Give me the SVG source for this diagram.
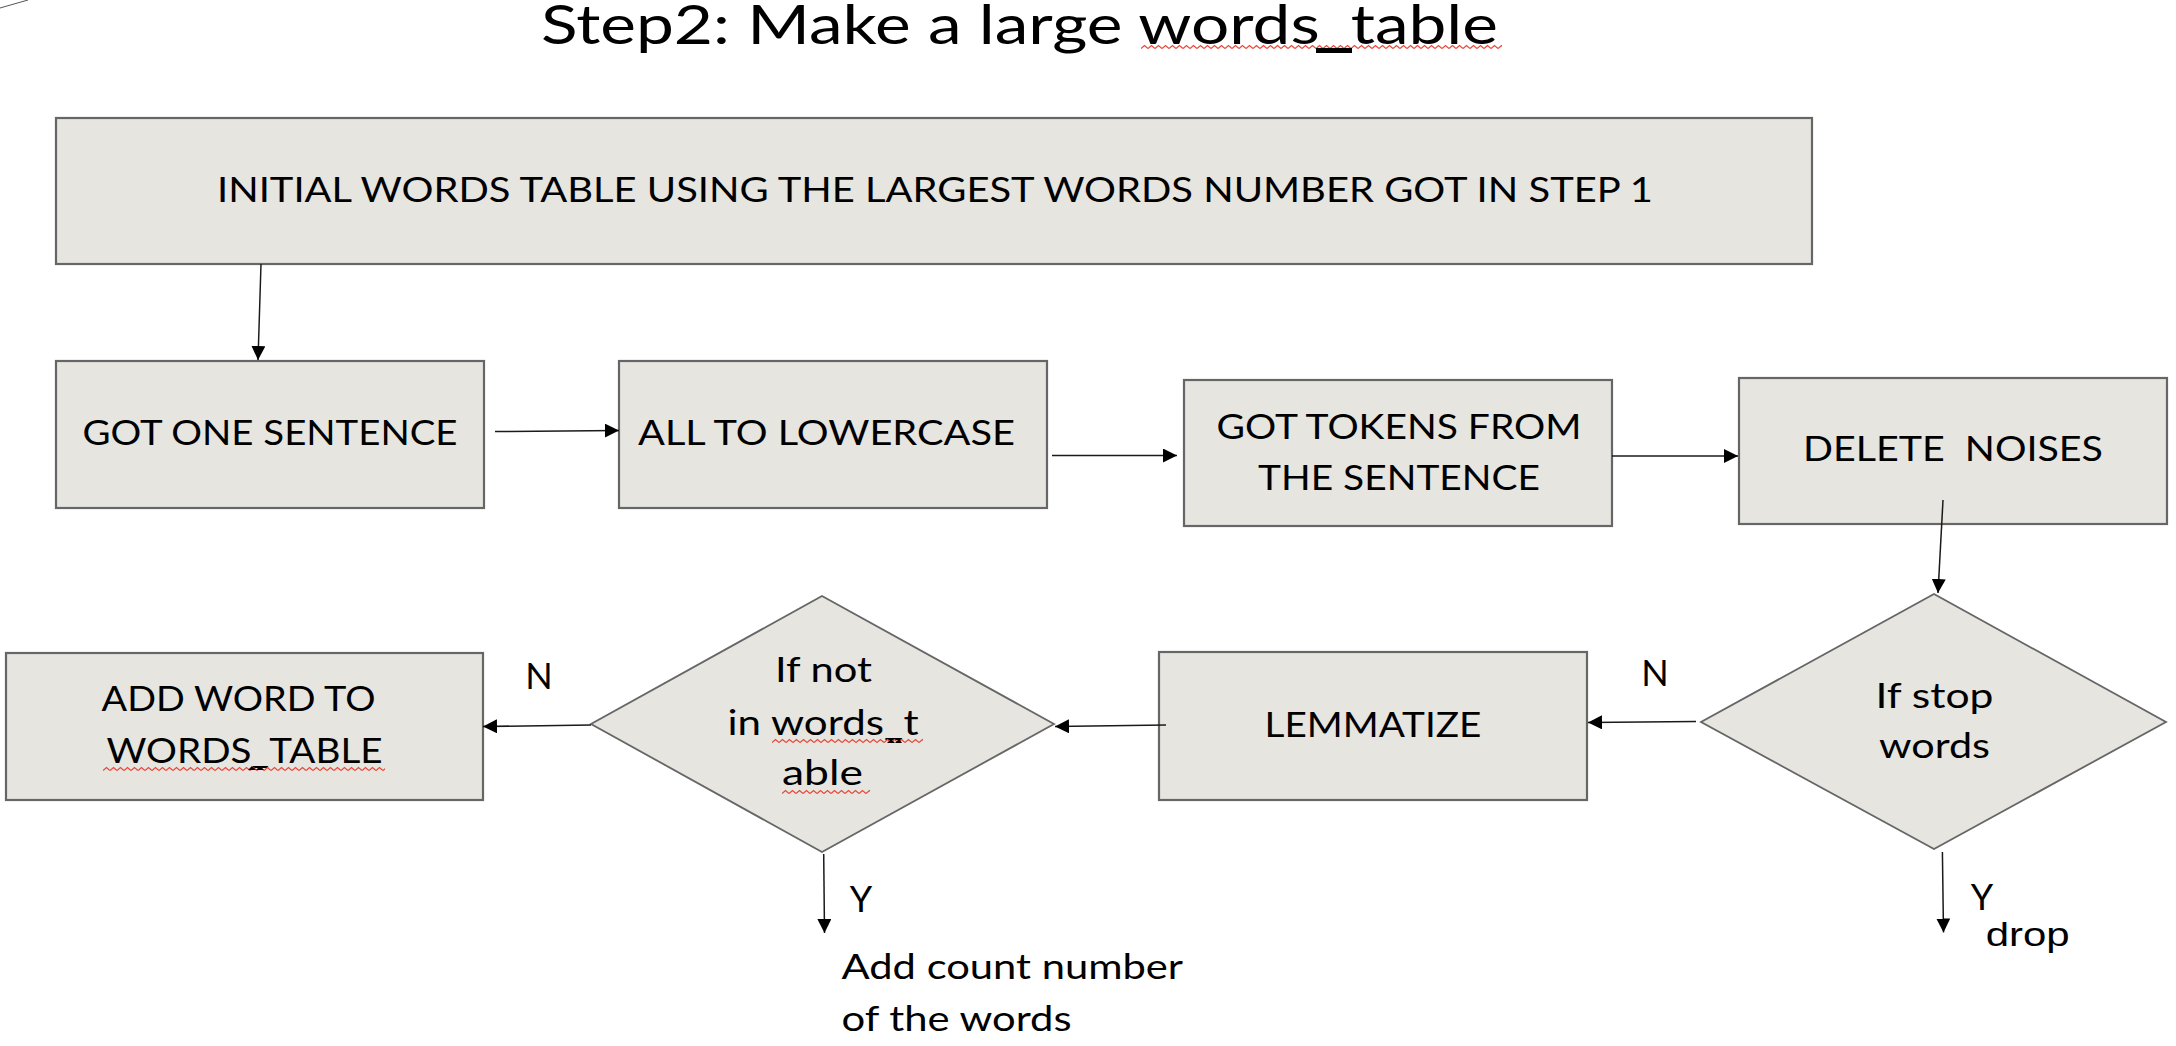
<svg xmlns="http://www.w3.org/2000/svg" width="2176" height="1046" viewBox="0 0 2176 1046">
<style>
.box{fill:#e6e5e0;stroke:#666;stroke-width:2.2}
.dia{fill:#e6e5e0;stroke:#666;stroke-width:1.8}
.t{font-family:Lato,"Open Sans",sans-serif;font-size:35px;fill:#000;text-anchor:middle}
.ts{font-family:Lato,"Open Sans",sans-serif;font-size:35px;fill:#000}
.lbl{font-family:Lato,"Open Sans",sans-serif;font-size:36px;fill:#000;text-anchor:middle}
.c{fill:none;stroke:#1a1a1a;stroke-width:1.5}
</style>
<defs>
<marker id="ah" viewBox="0 0 14 14" refX="14" refY="7" markerWidth="14" markerHeight="14" markerUnits="userSpaceOnUse" orient="auto">
<path d="M0,0 L14,7 L0,14 z" fill="#000"/>
</marker>
<pattern id="sq" width="7" height="6" patternUnits="userSpaceOnUse">
<path d="M0,4.5 L3.5,1.5 L7,4.5" fill="none" stroke="#e8473a" stroke-width="1.3"/>
</pattern>
</defs>
<rect width="2176" height="1046" fill="#fff"/>
<line x1="0" y1="8" x2="28" y2="0" stroke="#555" stroke-width="1"/>

<g id="title">
<text x="1019.5" y="44" font-family="Lato,'Open Sans',sans-serif" font-size="54" text-anchor="middle" textLength="957" lengthAdjust="spacingAndGlyphs">Step2: Make a large words_table</text>
<g transform="translate(1141,44)"><rect width="361" height="6" fill="url(#sq)"/></g>
<rect x="1316" y="48" width="36" height="5" fill="#000"/>
</g>

<g id="node-init">
<rect class="box" x="56" y="118" width="1756" height="146"/>
<text class="t" x="935" y="202" textLength="1436" lengthAdjust="spacingAndGlyphs">INITIAL WORDS TABLE USING THE LARGEST WORDS NUMBER GOT IN STEP 1</text>
</g>

<g id="node-sentence">
<rect class="box" x="56" y="361" width="428" height="147"/>
<text class="t" x="270" y="445" textLength="375" lengthAdjust="spacingAndGlyphs">GOT ONE SENTENCE</text>
</g>

<g id="node-lower">
<rect class="box" x="619" y="361" width="428" height="147"/>
<text class="t" x="826.5" y="445" textLength="377" lengthAdjust="spacingAndGlyphs">ALL TO LOWERCASE</text>
</g>

<g id="node-tokens">
<rect class="box" x="1184" y="380" width="428" height="146"/>
<text class="t" x="1399" y="439" textLength="365" lengthAdjust="spacingAndGlyphs">GOT TOKENS FROM</text>
<text class="t" x="1399" y="490" textLength="282" lengthAdjust="spacingAndGlyphs">THE SENTENCE</text>
</g>

<g id="node-noises">
<rect class="box" x="1739" y="378" width="428" height="146"/>
<text class="t" x="1953" y="461" textLength="300" lengthAdjust="spacingAndGlyphs" xml:space="preserve">DELETE  NOISES</text>
</g>

<g id="node-stop">
<polygon class="dia" points="1934,594 2166,722 1934,849 1701,722"/>
<text class="t" x="1934.5" y="708" textLength="118" lengthAdjust="spacingAndGlyphs">If stop</text>
<text class="t" x="1934.5" y="758" textLength="111" lengthAdjust="spacingAndGlyphs">words</text>
</g>

<g id="node-lemma">
<rect class="box" x="1159" y="652" width="428" height="148"/>
<text class="t" x="1373" y="737" textLength="217" lengthAdjust="spacingAndGlyphs">LEMMATIZE</text>
</g>

<g id="node-notin">
<polygon class="dia" points="822,596 1054,724 822,852 591,724"/>
<text class="t" x="823.5" y="682" textLength="97" lengthAdjust="spacingAndGlyphs">If not</text>
<text class="t" x="823" y="734.5" textLength="191" lengthAdjust="spacingAndGlyphs">in words_t</text>
<text class="t" x="822.5" y="785" textLength="81" lengthAdjust="spacingAndGlyphs">able</text>
<g transform="translate(772,738)"><rect width="151" height="6" fill="url(#sq)"/></g>
<g transform="translate(782,789)"><rect width="88" height="6" fill="url(#sq)"/></g>
<path d="M887,743 L891,739 L895,743 L899,739 L902,743 z" fill="#000"/>
</g>

<g id="node-add">
<rect class="box" x="6" y="653" width="477" height="147"/>
<text class="t" x="238.5" y="711" textLength="274" lengthAdjust="spacingAndGlyphs">ADD WORD TO</text>
<text class="t" x="244.5" y="763" textLength="276" lengthAdjust="spacingAndGlyphs">WORDS_TABLE</text>
<g transform="translate(103,766)"><rect width="282" height="6" fill="url(#sq)"/></g>
<path d="M248,770 L252,766 L256,770 L260,766 L264,770 L267,770 z" fill="#000"/>
</g>

<g id="connectors">
<line class="c" x1="261" y1="264" x2="258" y2="360" marker-end="url(#ah)"/>
<line class="c" x1="495" y1="431.5" x2="619" y2="430.5" marker-end="url(#ah)"/>
<line class="c" x1="1052" y1="455.5" x2="1177" y2="455.5" marker-end="url(#ah)"/>
<line class="c" x1="1612" y1="456" x2="1738" y2="456" marker-end="url(#ah)"/>
<line class="c" x1="1943" y1="500" x2="1938" y2="593" marker-end="url(#ah)"/>
<line class="c" x1="1696" y1="721.5" x2="1588" y2="722.5" marker-end="url(#ah)"/>
<line class="c" x1="1166" y1="725" x2="1055" y2="726.5" marker-end="url(#ah)"/>
<line class="c" x1="591" y1="725" x2="483" y2="726.5" marker-end="url(#ah)"/>
<line class="c" x1="823.7" y1="854" x2="824.5" y2="933" marker-end="url(#ah)"/>
<line class="c" x1="1942.4" y1="852" x2="1943.5" y2="932.5" marker-end="url(#ah)"/>
</g>

<g id="labels">
<text class="lbl" x="539" y="689">N</text>
<text class="lbl" x="1655" y="686">N</text>
<text class="lbl" x="861" y="912">Y</text>
<text class="lbl" x="1982" y="910">Y</text>
<text class="ts" x="841.5" y="979" textLength="341.5" lengthAdjust="spacingAndGlyphs">Add count number</text>
<text class="ts" x="841.5" y="1031" textLength="230" lengthAdjust="spacingAndGlyphs">of the words</text>
<text x="1985.7" y="946" font-family="'Liberation Sans',Arial,sans-serif" font-size="33" textLength="84" lengthAdjust="spacingAndGlyphs">drop</text>
</g>
</svg>
